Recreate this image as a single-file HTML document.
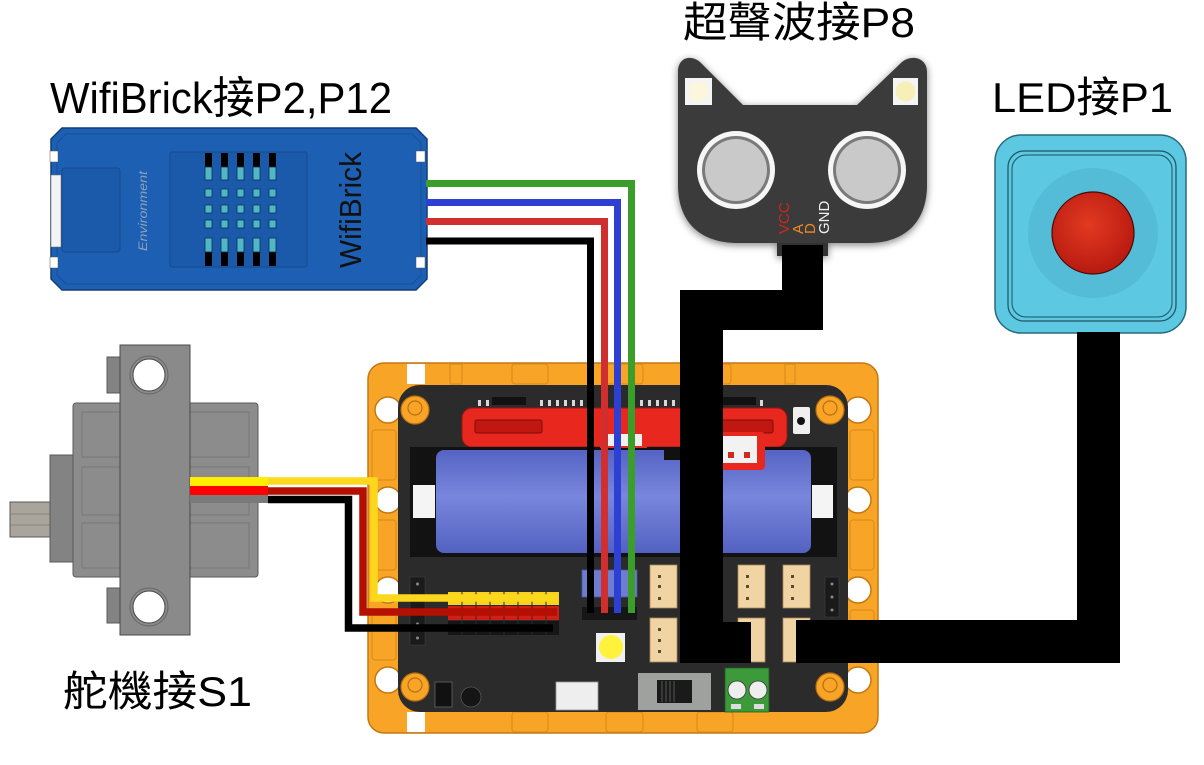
<!DOCTYPE html>
<html><head><meta charset="utf-8"><style>
html,body{margin:0;padding:0;background:#fff;}
svg{display:block;}
text{font-family:"Liberation Sans","Noto Sans CJK TC",sans-serif;}
</style></head><body>
<svg width="1204" height="765" viewBox="0 0 1204 765" xmlns="http://www.w3.org/2000/svg">
<defs>
<filter id="sh" x="-20%" y="-20%" width="140%" height="140%"><feGaussianBlur in="SourceAlpha" stdDeviation="4"/><feOffset dx="0" dy="2"/><feComponentTransfer><feFuncA type="linear" slope="0.5"/></feComponentTransfer><feMerge><feMergeNode/><feMergeNode in="SourceGraphic"/></feMerge></filter>
<linearGradient id="bat" x1="0" y1="0" x2="0" y2="1"><stop offset="0" stop-color="#5564c4"/><stop offset="0.45" stop-color="#7886dc"/><stop offset="1" stop-color="#5362c2"/></linearGradient>
<radialGradient id="ball" cx="0.45" cy="0.4" r="0.6"><stop offset="0" stop-color="#e23a22"/><stop offset="1" stop-color="#b81a10"/></radialGradient>
</defs>

<!-- Labels -->
<text x="50" y="113" font-size="44" textLength="342" lengthAdjust="spacingAndGlyphs">WifiBrick接P2,P12</text>
<text x="683" y="37" font-size="42" textLength="232" lengthAdjust="spacingAndGlyphs">超聲波接P8</text>
<text x="992" y="112" font-size="42" textLength="181" lengthAdjust="spacingAndGlyphs">LED接P1</text>
<text x="63" y="706" font-size="42" textLength="189" lengthAdjust="spacingAndGlyphs">舵機接S1</text>

<!-- WifiBrick -->
<g>
<path d="M62,128 L416,128 L427,139 L427,279 L416,290 L62,290 L51,279 L51,139 Z" fill="#1d5fb3" stroke="#123d78" stroke-width="1.5"/>
<path d="M66,134 L412,134 L421,143 L421,275 L412,284 L66,284 L57,275 L57,143 Z" fill="none" stroke="#17509a" stroke-width="1"/>
<rect x="50" y="151" width="8" height="11" fill="#fff" stroke="#555" stroke-width="0.5"/>
<rect x="50" y="257" width="8" height="11" fill="#fff" stroke="#555" stroke-width="0.5"/>
<rect x="416" y="151" width="9" height="11" fill="#fff" stroke="#555" stroke-width="0.5"/>
<rect x="416" y="257" width="9" height="11" fill="#fff" stroke="#555" stroke-width="0.5"/>
<rect x="51" y="175" width="10" height="72" fill="#f4f4f4" stroke="#666" stroke-width="0.5"/>
<rect x="62" y="168" width="58" height="84" rx="3" fill="#1b5aab" stroke="#154a8e" stroke-width="1"/>
<rect x="170" y="152" width="137" height="115" rx="2" fill="#1b5aab" stroke="#154a8e" stroke-width="1"/>
<g fill="#000">
<rect x="205" y="153" width="7" height="14"/><rect x="221" y="153" width="7" height="14"/><rect x="237" y="153" width="7" height="14"/><rect x="253" y="153" width="7" height="14"/><rect x="269" y="153" width="7" height="14"/>
<rect x="205" y="252" width="7" height="14"/><rect x="221" y="252" width="7" height="14"/><rect x="237" y="252" width="7" height="14"/><rect x="253" y="252" width="7" height="14"/><rect x="269" y="252" width="7" height="14"/>
</g>
<g fill="#4fb8c4" stroke="#0d2f55" stroke-width="0.8">
<rect x="205" y="167" width="7" height="13"/><rect x="221" y="167" width="7" height="13"/><rect x="237" y="167" width="7" height="13"/><rect x="253" y="167" width="7" height="13"/><rect x="269" y="167" width="7" height="13"/>
<rect x="205" y="238" width="7" height="14"/><rect x="221" y="238" width="7" height="14"/><rect x="237" y="238" width="7" height="14"/><rect x="253" y="238" width="7" height="14"/><rect x="269" y="238" width="7" height="14"/>
<rect x="205" y="189" width="7" height="8"/><rect x="221" y="189" width="7" height="8"/><rect x="237" y="189" width="7" height="8"/><rect x="253" y="189" width="7" height="8"/><rect x="269" y="189" width="7" height="8"/>
<rect x="205" y="205" width="7" height="8"/><rect x="221" y="205" width="7" height="8"/><rect x="237" y="205" width="7" height="8"/><rect x="253" y="205" width="7" height="8"/><rect x="269" y="205" width="7" height="8"/>
<rect x="205" y="220" width="7" height="8"/><rect x="221" y="220" width="7" height="8"/><rect x="237" y="220" width="7" height="8"/><rect x="253" y="220" width="7" height="8"/><rect x="269" y="220" width="7" height="8"/>
</g>
<text transform="translate(147,211) rotate(-90)" font-size="12" fill="#8fa0b8" text-anchor="middle" textLength="80" lengthAdjust="spacingAndGlyphs" font-style="italic">Environment</text>
<text transform="translate(361,210) rotate(-90)" font-size="31" fill="#111" text-anchor="middle" textLength="116" lengthAdjust="spacingAndGlyphs">WifiBrick</text>
</g>

<!-- Servo -->
<g stroke="#5a5a5a" stroke-width="1">
<rect x="10" y="502" width="41" height="35" fill="#a9a49c"/>
<line x1="10" y1="514" x2="50" y2="514" stroke="#8a857e"/>
<line x1="10" y1="525" x2="50" y2="525" stroke="#8a857e"/>
<rect x="50" y="455" width="24" height="107" fill="#838383"/>
<rect x="73" y="403" width="185" height="174" rx="3" fill="#8c8c8c"/>
<rect x="82" y="412" width="167" height="45" fill="none" stroke="#777"/>
<rect x="82" y="467" width="167" height="48" fill="none" stroke="#777"/>
<rect x="82" y="523" width="167" height="45" fill="none" stroke="#777"/>
<rect x="107" y="357" width="14" height="36" fill="#838383"/>
<rect x="107" y="588" width="14" height="35" fill="#838383"/>
<rect x="120" y="345" width="70" height="290" fill="#8a8a8a" stroke="#4a4a4a"/>
<circle cx="149" cy="375" r="19" fill="#8a8a8a" stroke="#666"/>
<circle cx="149" cy="375" r="16" fill="#fff" stroke="#444"/>
<circle cx="149" cy="607" r="19" fill="#8a8a8a" stroke="#666"/>
<circle cx="149" cy="607" r="16" fill="#fff" stroke="#444"/>
</g>
<rect x="190" y="477" width="78" height="9" fill="#ffee00"/>
<rect x="190" y="486" width="78" height="9" fill="#ff0000"/>
<rect x="190" y="495" width="78" height="8" fill="#7a7a7a"/>

<!-- Main board frame -->
<g>
<rect x="368" y="363" width="510" height="370" rx="16" fill="#f8a426" stroke="#c47812" stroke-width="1.5"/>
<g fill="none" stroke="#d98a17" stroke-width="1">
<rect x="450" y="364" width="12" height="20"/><rect x="512" y="364" width="36" height="20" rx="3"/><rect x="606" y="364" width="37" height="20" rx="3"/><rect x="697" y="364" width="34" height="20" rx="3"/><rect x="785" y="364" width="10" height="20"/>
<rect x="512" y="712" width="36" height="20" rx="3"/><rect x="606" y="712" width="37" height="20" rx="3"/><rect x="697" y="712" width="36" height="20" rx="3"/>
<rect x="372" y="430" width="24" height="50" rx="3"/><rect x="372" y="520" width="24" height="50" rx="3"/><rect x="372" y="610" width="24" height="50" rx="3"/>
<rect x="850" y="430" width="24" height="50" rx="3"/><rect x="850" y="520" width="24" height="50" rx="3"/><rect x="850" y="610" width="24" height="50" rx="3"/>
</g>
<rect x="407" y="364" width="18" height="20" fill="#fff"/>
<rect x="407" y="712" width="18" height="20" fill="#fff"/>
<g fill="#fff" stroke="#c47812" stroke-width="1.5">
<circle cx="388" cy="410" r="13"/><circle cx="388" cy="500" r="13"/><circle cx="388" cy="590" r="13"/><circle cx="388" cy="680" r="13"/>
<circle cx="858" cy="410" r="13"/><circle cx="858" cy="500" r="13"/><circle cx="858" cy="590" r="13"/><circle cx="858" cy="680" r="13"/>
</g>
<rect x="398" y="385" width="450" height="327" rx="22" fill="#2b2b2b"/>
<!-- corner mounts -->
<g fill="#f8a426" stroke="#b86f10" stroke-width="1.2">
<circle cx="415" cy="410" r="14"/><circle cx="830" cy="410" r="14"/><circle cx="415" cy="687" r="14"/><circle cx="830" cy="687" r="14"/>
</g>
<g fill="none" stroke="#b86f10" stroke-width="1.2">
<circle cx="415" cy="408" r="7"/><circle cx="830" cy="408" r="7"/><circle cx="415" cy="685" r="7"/><circle cx="830" cy="685" r="7"/>
</g>
<!-- pins row -->
<g fill="#d8d8d8">
<rect x="478" y="400" width="3" height="6"/><rect x="486" y="400" width="3" height="6"/><rect x="540" y="400" width="3" height="6"/><rect x="548" y="400" width="3" height="6"/><rect x="556" y="400" width="3" height="6"/><rect x="564" y="400" width="3" height="6"/><rect x="572" y="400" width="3" height="6"/><rect x="580" y="400" width="3" height="6"/><rect x="640" y="400" width="3" height="6"/><rect x="648" y="400" width="3" height="6"/><rect x="656" y="400" width="3" height="6"/><rect x="664" y="400" width="3" height="6"/><rect x="672" y="400" width="3" height="6"/><rect x="760" y="400" width="3" height="6"/>
</g>
<rect x="492" y="397" width="34" height="8" fill="#111"/>
<rect x="722" y="397" width="34" height="8" fill="#111"/>
<!-- red connector -->
<rect x="462" y="408" width="325" height="39" rx="10" fill="#e8281e" stroke="#9a1410" stroke-width="1"/>
<rect x="475" y="420" width="67" height="13" rx="2" fill="#c01810" stroke="#7a0e08" stroke-width="1"/>
<rect x="705" y="420" width="68" height="13" rx="2" fill="#c01810" stroke="#7a0e08" stroke-width="1"/>
<rect x="793" y="407" width="17" height="27" rx="2" fill="#f0f0f0"/>
<circle cx="801" cy="421" r="4" fill="#111"/>
<!-- battery holder -->
<rect x="410" y="447" width="427" height="110" fill="#121212"/>
<rect x="436" y="450" width="375" height="103" rx="8" fill="url(#bat)"/>
<rect x="413" y="485" width="22" height="33" fill="#f4f4f4"/>
<rect x="812" y="485" width="21" height="33" fill="#f4f4f4"/>
<rect x="600" y="432" width="47" height="16" fill="#e8281e"/>
<rect x="604" y="434" width="38" height="12" fill="#f0f0f0"/>
<rect x="717" y="432" width="48" height="38" rx="4" fill="#e8281e"/>
<rect x="722" y="436" width="35" height="27" fill="#f2f2f2"/>
<rect x="728" y="452" width="6" height="6" fill="#d02a20"/><rect x="744" y="452" width="6" height="6" fill="#d02a20"/>
<rect x="664" y="448" width="16" height="12" fill="#111"/>
<!-- headers -->
<rect x="410" y="577" width="15" height="68" fill="#1a1a1a" stroke="#444" stroke-width="0.5"/>
<g fill="#888"><circle cx="417.5" cy="584" r="1.5"/><circle cx="417.5" cy="624" r="1.5"/><circle cx="417.5" cy="638" r="1.5"/></g>
<rect x="825" y="577" width="14" height="40" fill="#1a1a1a" stroke="#444" stroke-width="0.5"/>
<g fill="#888"><circle cx="832" cy="584" r="1.5"/><circle cx="832" cy="597" r="1.5"/><circle cx="832" cy="610" r="1.5"/></g>
<rect x="448" y="592" width="111" height="13" fill="#f7d21e"/>
<rect x="448" y="606" width="111" height="14" fill="#d01f14"/>
<rect x="448" y="621" width="111" height="14" fill="#161616"/>
<g stroke="#2b2b2b" stroke-width="1">
<line x1="462" y1="592" x2="462" y2="635"/><line x1="476" y1="592" x2="476" y2="635"/><line x1="490" y1="592" x2="490" y2="635"/><line x1="504" y1="592" x2="504" y2="635"/><line x1="518" y1="592" x2="518" y2="635"/><line x1="532" y1="592" x2="532" y2="635"/><line x1="546" y1="592" x2="546" y2="635"/>
</g>
<rect x="582" y="570" width="55" height="27" fill="#6d7dd0" stroke="#4a56a0" stroke-width="0.8"/>
<rect x="582" y="607" width="55" height="13" fill="#161616"/>
<!-- JST connectors -->
<g fill="#f1d4a4" stroke="#a88a5a" stroke-width="0.8">
<rect x="650" y="565" width="27" height="43"/><rect x="650" y="618" width="27" height="44"/>
<rect x="738" y="565" width="27" height="43"/><rect x="738" y="618" width="27" height="44"/>
<rect x="783" y="565" width="27" height="43"/><rect x="783" y="618" width="27" height="44"/>
</g>
<g fill="#5a4a30">
<rect x="658" y="575" width="3" height="3"/><rect x="658" y="585" width="3" height="3"/><rect x="658" y="597" width="3" height="3"/>
<rect x="658" y="628" width="3" height="3"/><rect x="658" y="639" width="3" height="3"/><rect x="658" y="650" width="3" height="3"/>
<rect x="746" y="575" width="3" height="3"/><rect x="746" y="585" width="3" height="3"/><rect x="746" y="597" width="3" height="3"/>
<rect x="791" y="575" width="3" height="3"/><rect x="791" y="585" width="3" height="3"/><rect x="791" y="597" width="3" height="3"/>
</g>
<!-- yellow LED -->
<rect x="596" y="633" width="29" height="29" fill="#f0f0f0"/>
<circle cx="611" cy="647" r="12" fill="#fff23a"/>
<!-- bottom components -->
<rect x="435" y="682" width="17" height="25" fill="#111" stroke="#666" stroke-width="0.8"/>
<circle cx="471" cy="697" r="10" fill="#151515" stroke="#555" stroke-width="0.8"/>
<rect x="556" y="682" width="42" height="28" fill="#eeeeee" stroke="#999" stroke-width="0.8"/>
<rect x="638" y="673" width="73" height="37" fill="#9fa19f"/>
<rect x="657" y="680" width="35" height="23" fill="#1a1a1a"/>
<g stroke="#555" stroke-width="1"><line x1="662" y1="681" x2="662" y2="702"/><line x1="666" y1="681" x2="666" y2="702"/><line x1="670" y1="681" x2="670" y2="702"/><line x1="674" y1="681" x2="674" y2="702"/></g>
<rect x="725" y="668" width="44" height="44" fill="#3c9a3a" stroke="#1f5e1e" stroke-width="0.8"/>
<circle cx="737" cy="690" r="9" fill="#eeeeee" stroke="#333" stroke-width="0.8"/>
<circle cx="758" cy="690" r="9" fill="#eeeeee" stroke="#333" stroke-width="0.8"/>
<rect x="731" y="704" width="10" height="5" fill="#ddd"/><rect x="754" y="704" width="10" height="5" fill="#ddd"/>
</g>

<!-- Ultrasonic sensor -->
<g filter="url(#sh)">
<rect x="777" y="236" width="51" height="20" fill="#333"/>
<path d="M678,72 C678,58 690,54 700,62 L743,105 L857,105 L902,62 C912,54 927,58 927,72 L927,185 C927,222 905,243 868,243 L738,243 C700,243 678,222 678,185 Z" fill="#3a3a3a"/>
</g>
<rect x="685" y="78" width="27" height="27" fill="#f4f4f4"/>
<circle cx="698.5" cy="91.5" r="10" fill="#fbf6dc"/>
<rect x="893" y="78" width="25" height="27" fill="#f4f4f4"/>
<circle cx="905.5" cy="91.5" r="10" fill="#f8efb8"/>
<circle cx="736" cy="170" r="39" fill="#f6f6f6"/>
<circle cx="736" cy="170" r="34" fill="#7a7a7a"/>
<circle cx="736" cy="170" r="31" fill="#c9c9c9"/>
<circle cx="867" cy="170" r="39" fill="#f6f6f6"/>
<circle cx="867" cy="170" r="34" fill="#7a7a7a"/>
<circle cx="867" cy="170" r="31" fill="#c9c9c9"/>
<text transform="translate(789,234) rotate(-90)" font-size="15" fill="#d02818">VCC</text>
<text transform="translate(803,234) rotate(-90)" font-size="15" fill="#f08a20">A</text>
<text transform="translate(815,234) rotate(-90)" font-size="15" fill="#f08a20">D</text>
<text transform="translate(829,234) rotate(-90)" font-size="15" fill="#f0f0f0">GND</text>

<!-- LED module -->
<rect x="995" y="135" width="191" height="198" rx="26" fill="#5cc8e2" stroke="#2a6a7a" stroke-width="1.5"/>
<rect x="1008" y="151" width="168" height="170" rx="16" fill="none" stroke="#1f5260" stroke-width="1.2"/>
<rect x="1012" y="155" width="160" height="162" rx="14" fill="none" stroke="#1f5260" stroke-width="1"/>
<circle cx="1093" cy="233" r="65" fill="#54bcd6"/>
<circle cx="1093" cy="233" r="41" fill="url(#ball)" stroke="#4a0a05" stroke-width="1.2"/>

<!-- WifiBrick wires -->
<g fill="none" stroke-width="7" stroke-linejoin="miter">
<path d="M426,183.5 H631.5 V613" stroke="#3b9e2a"/>
<path d="M426,202.5 H617.5 V613" stroke="#2e3fd4"/>
<path d="M426,221.5 H604.5 V613" stroke="#d12f2f"/>
<path d="M426,241 H590.5 V613" stroke="#000"/>
</g>
<!-- Servo wires -->
<g fill="none" stroke-width="7.5" stroke-linejoin="miter">
<path d="M268,481 H374 V598 H557" stroke="#fcd81c"/>
<path d="M268,491 H363 V612 H557" stroke="#b50f00"/>
<path d="M268,499.5 H348.5 V628 H553" stroke="#000"/>
</g>

<!-- Thick black cables -->
<path d="M782,245 L823,245 L823,330 L723,330 L723,622 L751,622 L751,663 L680,663 L680,290 L782,290 Z" fill="#000"/>
<path d="M1077,332 L1120,332 L1120,663 L796,663 L796,620 L1077,620 Z" fill="#000"/>
</svg>
</body></html>
